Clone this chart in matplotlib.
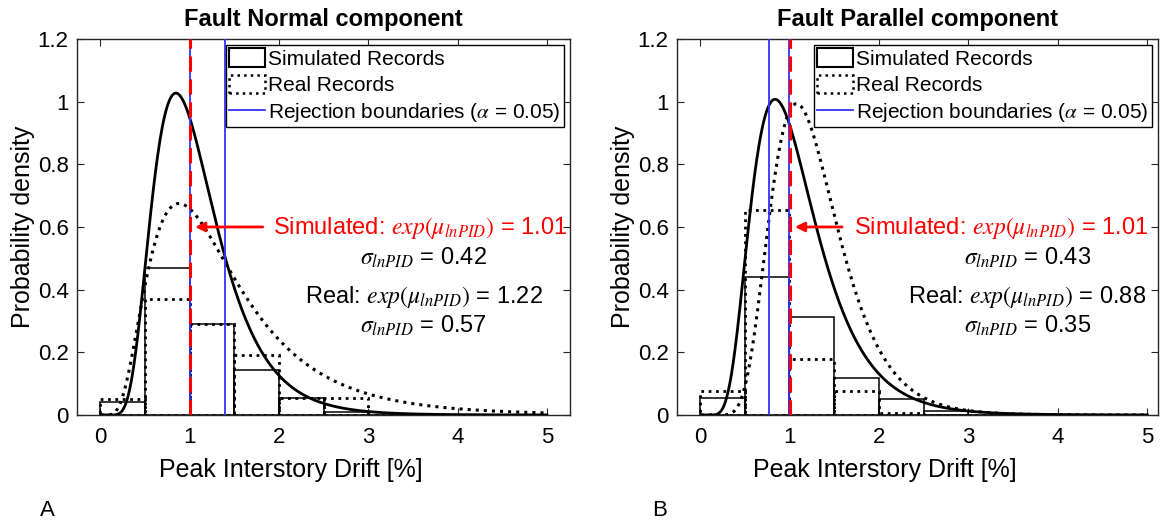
"""Fault Normal / Fault Parallel PID histograms with lognormal fits."""
import matplotlib
import matplotlib.pyplot as plt
import numpy as np
from matplotlib.lines import Line2D
from matplotlib.patches import Patch

matplotlib.use("Agg")

plt.rcParams["font.family"] = ["Liberation Sans", "DejaVu Sans"]
plt.rcParams["mathtext.fontset"] = "stix"

DPI = 100
FIGSIZE = (11.62, 5.21)

BIN_EDGES = [0, 0.5, 1.0, 1.5, 2.0, 2.5, 3.0, 3.5, 4.0, 4.5, 5.0]

# panel A (Fault Normal)
FN_SIM_HIST = [0.04, 0.47, 0.29, 0.145, 0.055, 0.01, 0, 0, 0, 0]
FN_REAL_HIST = [0.05, 0.37, 0.29, 0.19, 0.055, 0.055, 0, 0, 0, 0]
FN_SIM_FIT = (1.01, 0.42)   # median, sigma
FN_REAL_FIT = (1.22, 0.57)
FN_BOUNDS = [1.0, 1.40]
FN_TEXT = ["1.01", "0.42", "1.22", "0.57"]

# panel B (Fault Parallel)
FP_SIM_HIST = [0.055, 0.44, 0.313, 0.118, 0.051, 0.012, 0, 0, 0, 0]
FP_REAL_HIST = [0.075, 0.655, 0.18, 0.077, 0.005, 0, 0, 0, 0, 0]
FP_SIM_FIT = (1.01, 0.43)
FP_REAL_FIT = (1.22, 0.35)  # curve as drawn in the figure
FP_BOUNDS = [0.77, 1.0]
FP_TEXT = ["1.01", "0.43", "0.88", "0.35"]

RED_LINE_X = 1.01


def lognorm_pdf(x, median, sigma):
    return np.exp(-(np.log(x / median)) ** 2 / (2 * sigma ** 2)) / (x * sigma * np.sqrt(2 * np.pi))


def panel(ax, title, sim_hist, real_hist, sim_fit, real_fit, bounds, texts, xlim, txt_x):
    edges = np.array(BIN_EDGES)
    widths = np.diff(edges)
    ax.bar(edges[:-1], sim_hist, width=widths, align="edge", fill=False,
           edgecolor="black", linewidth=1.1, zorder=2)
    ax.bar(edges[:-1], real_hist, width=widths, align="edge", fill=False,
           edgecolor="black", linewidth=2.0, linestyle=":", zorder=2)

    x = np.linspace(0.01, 5, 600)
    ax.plot(x, lognorm_pdf(x, *sim_fit), color="black", lw=2.0, zorder=3)
    ax.plot(x, lognorm_pdf(x, *real_fit), color="black", lw=2.2, ls=":", zorder=3)

    for b in bounds:
        ax.axvline(b, color="#3333ff", lw=1.3, zorder=4)
    ax.axvline(RED_LINE_X, color="red", lw=2.2, ls=(0, (5, 2.5)), zorder=5)

    sim_c, rest_c, sim_start = txt_x
    ax.annotate("", xy=(RED_LINE_X + 0.02, 0.6), xytext=(sim_start - 0.08, 0.6),
                arrowprops=dict(arrowstyle="-|>", color="red", lw=2, mutation_scale=14),
                zorder=6)
    fs = 17
    ax.text(sim_c, 0.596, r"Simulated: $exp(\mu_{lnPID})$ = " + texts[0],
            color="red", fontsize=fs, ha="center", va="center")
    ax.text(rest_c, 0.50, r"$\sigma_{lnPID}$ = " + texts[1], fontsize=fs, ha="center", va="center")
    ax.text(rest_c, 0.376, r"Real: $exp(\mu_{lnPID})$ = " + texts[2], fontsize=fs,
            ha="center", va="center")
    ax.text(rest_c, 0.285, r"$\sigma_{lnPID}$ = " + texts[3], fontsize=fs, ha="center", va="center")

    handles = [
        Patch(facecolor="none", edgecolor="black", linewidth=1.5),
        Patch(facecolor="none", edgecolor="black", linewidth=1.8, linestyle=":"),
        Line2D([0], [0], color="#3333ff", lw=1.3),
    ]
    labels = ["Simulated Records", "Real Records", r"Rejection boundaries ($\alpha$ = 0.05)"]
    leg = ax.legend(handles, labels, loc="upper right", fontsize=15, fancybox=False,
                    framealpha=1, edgecolor="black", borderpad=0.15, labelspacing=0.28,
                    handlelength=1.75, handleheight=1.0, handletextpad=0.15,
                    borderaxespad=0.3)
    leg.get_frame().set_linewidth(1.0)

    ax.set_xlim(*xlim)
    ax.set_ylim(0, 1.2)
    ax.set_xticks([0, 1, 2, 3, 4, 5])
    ax.set_yticks([0, 0.2, 0.4, 0.6, 0.8, 1.0, 1.2])
    ax.set_yticklabels(["0", "0.2", "0.4", "0.6", "0.8", "1", "1.2"])
    ax.tick_params(direction="in", top=True, right=True, labelsize=16, length=5,
                   color="#262626", pad=6)
    ax.tick_params(axis="x", pad=9)
    for s in ax.spines.values():
        s.set_color("#262626")
        s.set_linewidth(1.0)
    ax.set_title(title, fontsize=17, fontweight="bold", pad=9)
    ax.set_xlabel("Peak Interstory Drift [%]", fontsize=18)
    ax.set_ylabel("Probability density", fontsize=18, labelpad=2)
    ax.xaxis.set_label_coords(0.433, -0.115)


fig = plt.figure(figsize=FIGSIZE, dpi=DPI)
ax1 = fig.add_axes([0.0663, 0.2035, 0.4243, 0.7217])
ax2 = fig.add_axes([0.5826, 0.2035, 0.4140, 0.7217])

panel(ax1, "Fault Normal component", FN_SIM_HIST, FN_REAL_HIST, FN_SIM_FIT, FN_REAL_FIT,
      FN_BOUNDS, FN_TEXT, (-0.26, 5.26), (3.58, 3.62, 1.93))
panel(ax2, "Fault Parallel component", FP_SIM_HIST, FP_REAL_HIST, FP_SIM_FIT, FP_REAL_FIT,
      FP_BOUNDS, FP_TEXT, (-0.257, 5.12), (3.37, 3.66, 1.70))

fig.text(40 / 1162, 1 - 510 / 521, "A", fontsize=16, ha="left", va="center")
fig.text(652 / 1162, 1 - 510 / 521, "B", fontsize=16, ha="left", va="center")

fig.savefig("out.png", dpi=DPI)
plt.close(fig)
